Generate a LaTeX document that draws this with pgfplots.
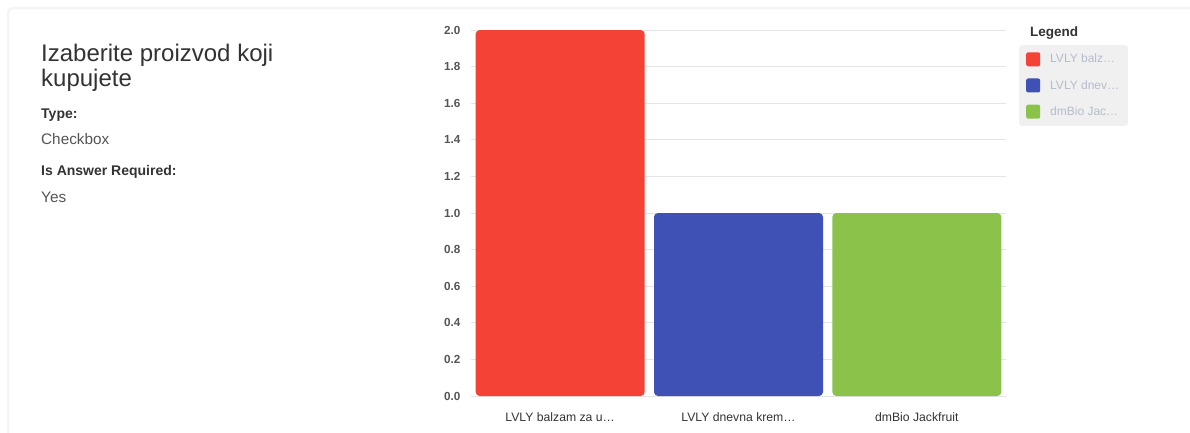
\documentclass[border=0pt]{standalone}
\usepackage{fontspec}
\setmainfont{Liberation Sans}
\usepackage{pgfplots}
\pgfplotsset{compat=1.18}
\definecolor{cred}{HTML}{F44336}
\definecolor{cblue}{HTML}{3F51B5}
\definecolor{cgreen}{HTML}{8BC34A}
\definecolor{txt}{HTML}{333333}
\definecolor{sub}{HTML}{555555}
\definecolor{leg}{HTML}{B4BBCB}
\definecolor{gridc}{HTML}{E4E4E4}
\begin{document}
\begin{tikzpicture}[x=1pt,y=1pt]
\useasboundingbox (0,0) rectangle (1190,432);
\fill[white] (0,0) rectangle (1190,432);
\begin{scope}
\clip (0,0) rectangle (1190,432);
\fill[black!4, rounded corners=5pt] (7,-10) rectangle (1200,425);
\fill[white, draw=black!7, rounded corners=4pt] (9,-10) rectangle (1200,423);
\end{scope}
\node[anchor=base west, inner sep=0, text=txt, font=\fontsize{24}{28}\selectfont] at (41,432-62) {Izaberite proizvod koji};
\node[anchor=base west, inner sep=0, text=txt, font=\fontsize{24}{28}\selectfont] at (41,432-87) {kupujete};
\node[anchor=base west, inner sep=0, text=txt, font=\bfseries\fontsize{14}{16}\selectfont] at (41,432-118) {Type:};
\node[anchor=base west, inner sep=0, text=sub, font=\fontsize{15.3}{18}\selectfont] at (41,432-144) {Checkbox};
\node[anchor=base west, inner sep=0, text=txt, font=\bfseries\fontsize{14}{16}\selectfont] at (41,432-175) {Is Answer Required:};
\node[anchor=base west, inner sep=0, text=sub, font=\fontsize{15.3}{18}\selectfont] at (41,432-202) {Yes};
\node[anchor=base west, inner sep=0, text=txt, font=\bfseries\fontsize{13.5}{15}\selectfont] at (1030,432-37) {Legend};
\begin{axis}[
  at={(471pt,36pt)}, anchor=south west,
  scale only axis, width=535pt, height=366pt,
  xmin=-0.5, xmax=2.5, ymin=0, ymax=2,
  axis line style={draw=none},
  major tick length=0pt,
  ymajorgrids, grid style={gridc, line width=1pt},
  ytick={0,0.2,0.4,0.6,0.8,1.0,1.2,1.4,1.6,1.8,2.0},
  yticklabel style={/pgf/number format/.cd, fixed, fixed zerofill, precision=1, /tikz/.cd, text=sub, font=\bfseries\fontsize{11.7}{13}\selectfont, xshift=-7pt},
  /pgf/number format/assume math mode=true,
  xtick={0,1,2},
  xticklabels={{LVLY balzam za u\dots},{LVLY dnevna krem\dots},{dmBio Jackfruit}},
  xticklabel style={text=txt, font=\fontsize{12.2}{14}\selectfont, yshift=-13pt},
  ybar, bar width=169pt,
  legend style={at={(rel axis cs:1,1)}, xshift=13pt, yshift=-15pt, anchor=north west, fill=black!6, draw=none, rounded corners=3pt,
    font=\fontsize{12}{14}\selectfont, text=leg, inner xsep=7pt, inner ysep=7pt,
    row sep=12pt, column sep=8pt, cells={anchor=west}},
  legend cell align=left,
  legend image code/.code={\fill[#1, rounded corners=2pt] (0pt,-7pt) rectangle (14pt,7pt);},
]
\addplot[fill=cred, draw=none, bar shift=0pt, rounded corners=4pt] coordinates {(0,2)};
\addplot[fill=cblue, draw=none, bar shift=0pt, rounded corners=4pt] coordinates {(1,1)};
\addplot[fill=cgreen, draw=none, bar shift=0pt, rounded corners=4pt] coordinates {(2,1)};
\legend{{LVLY balz\dots},{LVLY dnev\dots},{dmBio Jac\dots}}
\end{axis}
\end{tikzpicture}
\end{document}
